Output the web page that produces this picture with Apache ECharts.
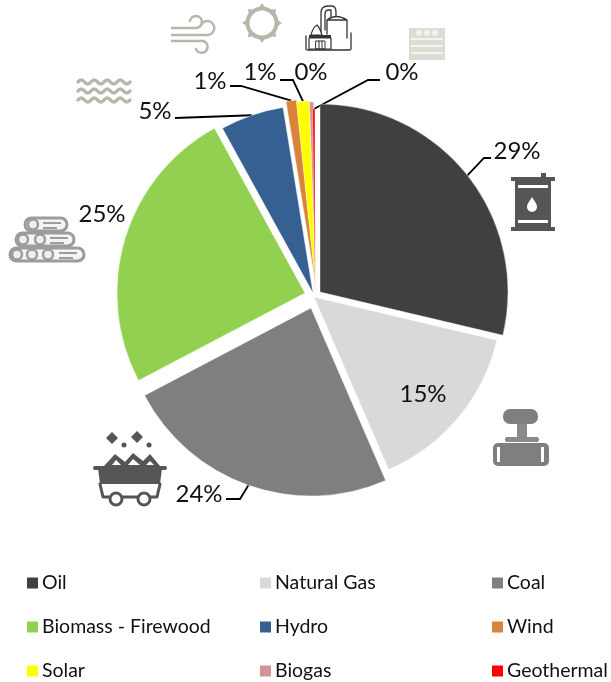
<!DOCTYPE html>
<html><head><meta charset="utf-8">
<style>html,body{margin:0;padding:0;background:#fff}#c{width:611px;height:682px}</style>
<script src="https://cdn.jsdelivr.net/npm/echarts@6/dist/echarts.min.js"></script>
</head><body><div id="c"></div>
<script>
const categories=['Oil','Natural Gas','Coal','Biomass - Firewood','Hydro','Wind','Solar','Biogas','Geothermal'];
const values=[28.7,14.8,23.8,24.7,5.45,0.9,1.1,0.35,0.2];
const colors=['#404040','#d9d9d9','#7f7f7f','#92d050','#376092','#d9843b','#ffff00','#d09493','#ff0000'];
// each slice is pulled out of the pie by its own amount
const sliceCenters=[[320,292],[314,297],[311,308],[305,293],[313,293],[316,287],[316,289],[316,290],[315,297]];
const labelSpots=[
 {x:517,y:151,line:[[484,158],[491,158]]},
 {x:423,y:394},
 {x:199,y:494,line:[[240,499],[226,499]]},
 {x:102,y:214},
 {x:155,y:111,line:[[175,118]]},
 {x:210,y:81,line:[[241,86],[230,86]]},
 {x:260,y:72,line:[[293,80],[280,80]]},
 {x:311,y:72},
 {x:402,y:72,line:[[368,80],[380,80]]}
];
const font='Lato, Carlito, "Open Sans", sans-serif';
const chart=echarts.init(document.getElementById('c'));

function R(x,y,w,h,fill,r,stroke,lw){return {type:'rect',shape:{x,y,width:w,height:h,r:r||0},style:{fill,stroke:stroke||'none',lineWidth:lw||0},silent:true};}
function C(cx,cy,r,fill,stroke,lw){return {type:'circle',shape:{cx,cy,r},style:{fill:fill||'none',stroke:stroke||'none',lineWidth:lw||0},silent:true};}
let pathCount=0;
function P(d,fill,stroke,lw){
 const type='iconPath'+(pathCount++);
 echarts.graphic.registerShape(type,echarts.graphic.extendPath(d));
 return {type,shape:{},style:{fill:fill||'none',stroke:stroke||'none',lineWidth:lw||0,lineCap:'round',lineJoin:'round'},silent:true};
}
const wave=y=>'M78 '+y+' q3.25 -4 6.5 0'+' t6.5 0'.repeat(7);
const dk='#555555', gy='#9c9c9c', tan='#b8b5aa';
const icons=[
 // barrel
 R(511,177,44,4,dk),R(515,180,36,48,dk),R(511,227,44,4,dk),R(541,173,5,5,dk),
 R(518,185,30,3,'#fff'),R(518,220,30,3,'#fff'),
 P('M532 197 C529 202 527 204 527 207 A5 5 0 0 0 537 207 C537 204 535 202 532 197 Z','#fff'),
 // valve
 R(503,409,35,15,'#7f7f7f',7),R(517,424,10,13,'#8a8a8a'),R(505,437,34,5,'#8a8a8a',2),
 R(493,443,56,23,'#7f7f7f',5),R(497,447,3,15,'#fff'),R(541,447,3,15,'#fff'),
 // coal cart
 P('M112 432 L118 438 L112 444 L106 438 Z',dk),P('M137 431 L143 437 L137 443 L131 437 Z',dk),
 C(124,445,2.5,dk),C(149,445,2.5,dk),
 P('M104 466 L115 454 L125 462 L133 453 L143 461 L150 454 L160 466 Z',dk),
 P('M112 465 L116 460 L121 465 Z','#fff'),P('M128 465 L133 459 L140 465 Z','#fff'),P('M146 465 L150 461 L154 465 Z','#fff'),
 R(93,466,74,4,dk,2),P('M98 468 L162 468 L160 484 L100 484 Z',dk),
 P('M100 484 L103 497 L157 497 L160 484',"#fff",dk,3),
 C(116,499,6,'#fff',dk,3),C(144,499,6,'#fff',dk,3),
 // logs
 R(25,218,42,13,'#f4f4f4',6.5,gy,3),R(16,233,58,13,'#f4f4f4',6.5,gy,3),R(10,248,74,13,'#f4f4f4',6.5,gy,3),
 C(33,224.5,5,'#eee',gy,2.5),C(23,239.5,5,'#eee',gy,2.5),C(40,239.5,5,'#eee',gy,2.5),C(17,254.5,5,'#eee',gy,2.5),C(32,254.5,5,'#eee',gy,2.5),C(48,254.5,5,'#eee',gy,2.5),
 R(43,222,18,2,gy),R(43,227,14,2,gy),R(50,237,18,2,gy),R(50,242,14,2,gy),R(59,252,18,2,gy),R(59,257,14,2,gy),
 // waves
 P(wave(82),null,tan,3.5),P(wave(91),null,tan,3.5),P(wave(100),null,tan,3.5),
 // wind
 P('M172 28 H196 A6 6 0 1 0 190 21',null,tan,2.5),P('M172 35 H208 A7 7 0 1 0 201 25',null,tan,2.5),P('M172 41 H200 A6 6 0 1 1 196 49',null,tan,2.5),
 // sun
 C(262,23,14.5,'none',tan,4),
 P('M262 3 L266 9 L258 9 Z M262 43 L266 37 L258 37 Z M242 23 L248 19 L248 27 Z M282 23 L276 19 L276 27 Z M248 9 L255 10 L249 16 Z M276 9 L269 10 L275 16 Z M248 37 L255 36 L249 30 Z M276 37 L269 36 L275 30 Z',tan),
 // biogas plant
 P('M321 32 V13 Q321 6 328 6 H332 Q336 6 336 13 V16 M325 30 V14 Q325 10 329 10 H331 V18',null,'#333',1.3),
 P('M327 34 V20 Q336 13 347 20 V38 M327 20 H347',null,'#333',1.3),
 P('M306 36 V49 Q306 50 308 50 H349 Q351 50 351 49 V33',null,'#333',1.3),
 P('M309 38 H331 V49 H309 Z','#fff','#333',1.2),R(309,35,22,3,'#333'),
 P('M311 35 Q313 27 317 25 Q320 28 322 35 Z','#fff','#333',1.2),
 P('M316 41 H325 V49 H316 Z M319 41 V49 M322 41 V49',null,'#333',1),
 // geothermal wall
 R(409,28,36,32,'#dcdcd4'),R(411,38,32,2,'#f3f3ee'),R(411,45,32,2,'#f3f3ee'),R(411,52,32,2,'#f3f3ee'),
 C(419,33,3,'#f3f3ee'),C(427,33,3,'#f3f3ee'),C(435,33,3,'#f3f3ee')
];

function legendCol(left,names){
 return {orient:'vertical',left,top:572,padding:0,itemGap:22,itemWidth:13,itemHeight:13,icon:'rect',selectedMode:false,
  data:names,textStyle:{fontFamily:font,fontSize:19.5,color:'#111',lineHeight:22,height:22,padding:[0,0,0,-2]}};
}
const total=values.reduce((a,b)=>a+b,0);
const hidden={itemStyle:{color:'rgba(0,0,0,0)',borderWidth:0},label:{show:false},labelLine:{show:false}};
const series=categories.map((name,i)=>{
 const before=values.slice(0,i).reduce((a,b)=>a+b,0);
 const after=total-before-values[i];
 return {
  type:'pie',center:sliceCenters[i],radius:[0,188],startAngle:90,clockwise:true,avoidLabelOverlap:false,
  silent:true,emphasis:{disabled:true},sort:null,minShowLabelAngle:0,
  itemStyle:{borderColor:'#fff',borderWidth:0.4},
  label:{show:true,position:'outside',formatter:p=>Math.round(p.value)+'%',fontFamily:font,fontSize:24,color:'#111'},
  labelLine:{show:!!labelSpots[i].line,length:10,length2:10,lineStyle:{color:'#000',width:1.8}},
  labelLayout:function(p){
   if(p.dataIndex!==1)return {};
   const s=labelSpots[i];
   const out={x:s.x,y:s.y,align:'center',verticalAlign:'middle'};
   if(s.line&&p.labelLinePoints){
    const pts=[p.labelLinePoints[0]].concat(s.line);
    if(pts.length===2)pts.push(s.line[0]);
    out.labelLinePoints=pts;
   }
   return out;
  },
  data:[
   Object.assign({name:'',value:before},hidden),
   {name,value:values[i],itemStyle:{color:colors[i]}},
   Object.assign({name:'',value:after},hidden)
  ]
 };
});
chart.setOption({
 animation:false,backgroundColor:'#fff',
 legend:[legendCol(25,['Oil','Biomass - Firewood','Solar']),legendCol(258,['Natural Gas','Hydro','Biogas']),legendCol(490,['Coal','Wind','Geothermal'])],
 graphic:{elements:icons},
 series
});
</script></body></html>
